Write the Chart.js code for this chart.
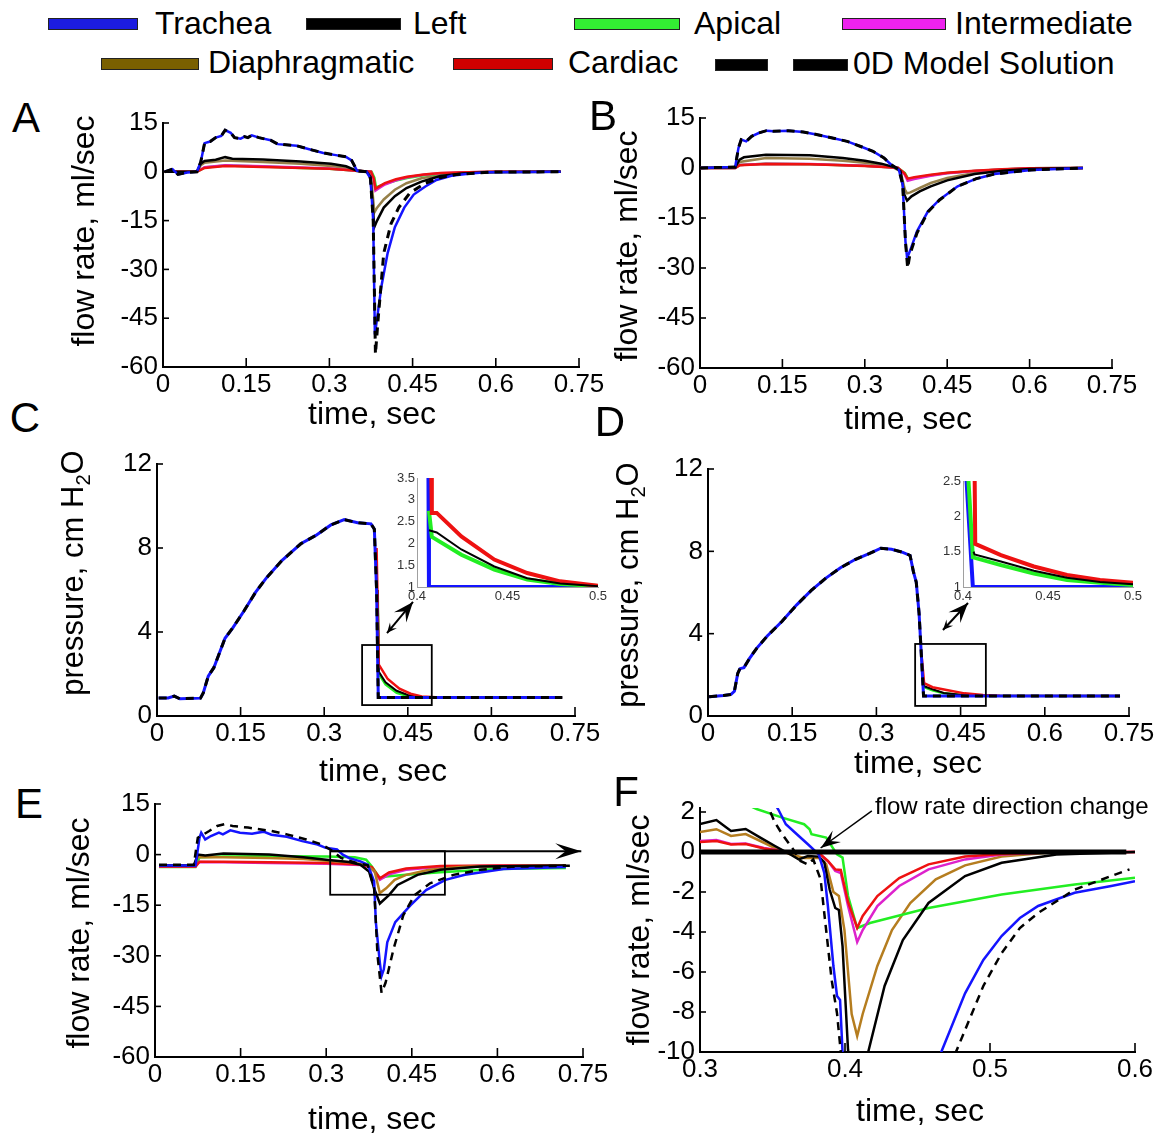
<!DOCTYPE html>
<html>
<head>
<meta charset="utf-8">
<script src="https://cdn.jsdelivr.net/npm/chart.js@4.4.0/dist/chart.umd.min.js"></script>
<style>
  body { margin: 0; background: #fff; }
  #fig { position: relative; width: 1166px; height: 1136px; overflow: hidden; font-family: 'Liberation Sans', Arial, sans-serif; color: #000; }
  canvas { position: absolute; }
  .lg { position: absolute; height: 12px; border: 1px solid #222; box-sizing: border-box; }
  .lt { position: absolute; font-size: 32px; line-height: 1; transform: translateY(-50%); white-space: nowrap; }
  .pl { position: absolute; font-size: 42px; line-height: 1; transform: translate(-50%, -50%); }
  .yt { position: absolute; line-height: 1; white-space: nowrap; transform: translate(-50%, -50%) rotate(-90deg); }
  .xt { position: absolute; line-height: 1; white-space: nowrap; transform: translate(-50%, -50%); }
  sub { font-size: 0.65em; vertical-align: -0.35em; }
</style>
</head>
<body>
<div id="fig">
  <!-- legend -->
  <div class="lg" style="left:48px;top:18px;width:90px;background:#1c1ce0"></div>
  <div class="lt" style="left:155px;top:23px">Trachea</div>
  <div class="lg" style="left:306px;top:18px;width:95px;background:#000"></div>
  <div class="lt" style="left:413px;top:23px">Left</div>
  <div class="lg" style="left:574px;top:18px;width:106px;background:#33ee33"></div>
  <div class="lt" style="left:694px;top:23px">Apical</div>
  <div class="lg" style="left:842px;top:18px;width:104px;background:#ee22ee"></div>
  <div class="lt" style="left:955px;top:23px">Intermediate</div>
  <div class="lg" style="left:101px;top:58px;width:98px;background:#7a6000"></div>
  <div class="lt" style="left:208px;top:62px">Diaphragmatic</div>
  <div class="lg" style="left:453px;top:58px;width:100px;background:#d00000"></div>
  <div class="lt" style="left:568px;top:62px">Cardiac</div>
  <div class="lg" style="left:715px;top:59px;width:53px;background:#000"></div>
  <div class="lg" style="left:793px;top:59px;width:55px;background:#000"></div>
  <div class="lt" style="left:853px;top:63px">0D Model Solution</div>

  <canvas id="chartA"></canvas>
  <canvas id="chartB"></canvas>
  <canvas id="chartC"></canvas>
  <canvas id="chartD"></canvas>
  <canvas id="chartE"></canvas>
  <canvas id="chartF"></canvas>
  <canvas id="insetC"></canvas>
  <canvas id="insetD"></canvas>

  <div class="pl" style="left:26px;top:118px">A</div>
  <div class="pl" style="left:603px;top:116px">B</div>
  <div class="pl" style="left:25px;top:418px">C</div>
  <div class="pl" style="left:610px;top:422px">D</div>
  <div class="pl" style="left:29px;top:804px">E</div>
  <div class="pl" style="left:626px;top:792px">F</div>

  <div class="yt" style="left:83px;top:231px;font-size:32px">flow rate, ml/sec</div>
  <div class="xt" style="left:372px;top:413px;font-size:32px">time, sec</div>
  <div class="yt" style="left:626px;top:246px;font-size:32px">flow rate, ml/sec</div>
  <div class="xt" style="left:908px;top:418px;font-size:32px">time, sec</div>
  <div class="yt" style="left:75px;top:573px;font-size:31px">pressure, cm H<sub>2</sub>O</div>
  <div class="xt" style="left:383px;top:770px;font-size:32px">time, sec</div>
  <div class="yt" style="left:630px;top:585px;font-size:31px">pressure, cm H<sub>2</sub>O</div>
  <div class="xt" style="left:918px;top:762px;font-size:32px">time, sec</div>
  <div class="yt" style="left:78px;top:933px;font-size:32px">flow rate, ml/sec</div>
  <div class="xt" style="left:372px;top:1118px;font-size:32px">time, sec</div>
  <div class="yt" style="left:638px;top:930px;font-size:32px">flow rate, ml/sec</div>
  <div class="xt" style="left:920px;top:1110px;font-size:32px">time, sec</div>
  <div class="lt" style="left:875px;top:806px;font-size:24px">flow rate direction change</div>
</div>

<script>
// ---- panel A: flow rates, [time s, ml/sec]
var aTrachea = [[0.003,0],[0.017,0.8],[0.027,-0.8],[0.044,-0.2],[0.061,0],[0.068,3],[0.075,8.8],[0.085,9.3],[0.095,10.5],[0.105,11],[0.112,12.8],[0.122,12],[0.129,10.5],[0.14,10.2],[0.147,10.8],[0.153,10.5],[0.16,11.2],[0.173,10.5],[0.194,9.7],[0.207,8.5],[0.241,8],[0.262,7],[0.289,5.8],[0.309,5.2],[0.33,4.6],[0.34,3.5],[0.35,0.3],[0.367,0],[0.374,-2],[0.379,-15],[0.382,-50],[0.386,-45],[0.394,-35],[0.405,-25],[0.418,-17],[0.435,-11],[0.452,-7],[0.473,-4.5],[0.493,-2.5],[0.52,-1.2],[0.554,-0.5],[0.588,-0.1],[0.717,0]];
var aModelTail = [[0.383,-56],[0.388,-45],[0.398,-25],[0.411,-16],[0.425,-11],[0.445,-6.5],[0.473,-3.5],[0.5,-1.8],[0.53,-0.8],[0.588,-0.1],[0.717,0]];
var aLeft = [[0.003,0],[0.061,0],[0.068,2.5],[0.075,3.3],[0.095,3.7],[0.112,4.5],[0.125,4],[0.18,3.8],[0.248,3.2],[0.303,2.5],[0.33,1.7],[0.35,0.3],[0.367,0],[0.374,-1.5],[0.381,-17],[0.386,-15],[0.398,-11],[0.418,-7.5],[0.439,-5],[0.466,-3],[0.5,-1.3],[0.54,-0.5],[0.588,-0.1],[0.717,0]];
var aDiaph = [[0.003,0],[0.061,0],[0.068,2],[0.075,2.8],[0.112,3.5],[0.18,3.0],[0.248,2.5],[0.303,1.8],[0.33,1.2],[0.35,0.2],[0.367,0],[0.375,-1],[0.381,-12.5],[0.386,-11],[0.398,-8.5],[0.418,-5.5],[0.439,-3.5],[0.466,-2],[0.5,-1],[0.55,-0.3],[0.6,0],[0.717,0]];
var aCardiac = [[0.003,0],[0.061,0],[0.075,1.2],[0.112,1.8],[0.18,1.5],[0.25,1.2],[0.3,0.9],[0.35,0.3],[0.375,0],[0.38,-2],[0.383,-5.2],[0.39,-4.5],[0.4,-3.5],[0.42,-2.3],[0.44,-1.5],[0.47,-0.8],[0.5,-0.4],[0.55,-0.1],[0.6,0],[0.717,0]];
var aInter = [[0.003,0],[0.061,0],[0.075,1.4],[0.112,2],[0.18,1.7],[0.25,1.3],[0.3,1],[0.35,0.3],[0.375,0],[0.38,-2.5],[0.383,-5.8],[0.39,-5],[0.4,-3.9],[0.42,-2.6],[0.44,-1.7],[0.47,-0.9],[0.5,-0.45],[0.55,-0.1],[0.6,0],[0.717,0]];
var aApical = [[0.003,0],[0.061,0],[0.075,1.3],[0.112,1.9],[0.18,1.6],[0.25,1.2],[0.3,0.9],[0.35,0.3],[0.376,0],[0.381,-1.8],[0.384,-4.8],[0.39,-4.4],[0.4,-3.7],[0.42,-2.7],[0.44,-1.9],[0.47,-1.1],[0.5,-0.6],[0.55,-0.2],[0.6,0],[0.717,0]];

// ---- panel B
var bTrachea = [[0,0],[0.064,0.3],[0.07,6],[0.075,8.5],[0.084,8],[0.094,9.5],[0.107,10.5],[0.121,11.2],[0.134,11],[0.161,11.2],[0.188,10.8],[0.214,10],[0.241,9],[0.268,8],[0.295,6.3],[0.315,5],[0.335,3],[0.348,1],[0.362,-0.5],[0.369,-5],[0.374,-22],[0.377,-27],[0.382,-25],[0.395,-19],[0.415,-13],[0.436,-9.5],[0.469,-5.5],[0.503,-3.2],[0.536,-1.8],[0.603,-0.6],[0.697,0]];
var bModelTail = [[0.378,-30],[0.382,-26],[0.395,-19.5],[0.415,-13.2],[0.436,-9.6],[0.469,-5.5],[0.503,-3.2],[0.536,-1.8],[0.603,-0.6],[0.697,0]];
var bLeft = [[0,0],[0.064,0.2],[0.072,2.5],[0.08,3.2],[0.12,4],[0.2,3.8],[0.26,3],[0.3,2.2],[0.33,1.3],[0.355,0.2],[0.365,-1],[0.372,-8],[0.377,-9.8],[0.385,-8.5],[0.4,-7],[0.42,-5.5],[0.45,-3.7],[0.5,-1.8],[0.55,-0.8],[0.6,-0.3],[0.697,0]];
var bDiaph = [[0,0],[0.064,0.1],[0.072,1.8],[0.12,3],[0.2,2.8],[0.26,2.2],[0.3,1.6],[0.35,0.3],[0.365,-1],[0.373,-6.5],[0.377,-7.6],[0.383,-7.3],[0.4,-6],[0.42,-4.5],[0.45,-3],[0.5,-1.5],[0.55,-0.7],[0.6,-0.2],[0.697,0]];
var bCardiac = [[0,0],[0.064,0],[0.072,0.8],[0.12,1.2],[0.2,1.1],[0.3,0.6],[0.36,0.1],[0.372,-1.5],[0.378,-3.2],[0.39,-2.8],[0.42,-2],[0.45,-1.4],[0.5,-0.8],[0.55,-0.4],[0.6,-0.1],[0.697,0]];
var bInter = [[0,0],[0.064,0],[0.072,0.9],[0.12,1.3],[0.2,1.2],[0.3,0.7],[0.36,0.1],[0.372,-1.8],[0.378,-3.8],[0.39,-3.3],[0.42,-2.3],[0.45,-1.6],[0.5,-0.9],[0.55,-0.45],[0.6,-0.1],[0.697,0]];
var bApical = [[0,0],[0.064,0],[0.072,0.9],[0.12,1.3],[0.2,1.15],[0.3,0.65],[0.36,0.1],[0.373,-1.5],[0.379,-3.3],[0.39,-3.0],[0.42,-2.2],[0.45,-1.5],[0.5,-0.9],[0.55,-0.45],[0.6,-0.1],[0.697,0]];

// ---- panel C: pressure, cm H2O
var cTrachea = [[0.003,0.86],[0.02,0.86],[0.031,0.95],[0.041,0.82],[0.078,0.85],[0.083,1.1],[0.092,1.9],[0.102,2.3],[0.112,3.0],[0.122,3.7],[0.136,4.2],[0.156,5.0],[0.177,5.9],[0.197,6.6],[0.224,7.4],[0.258,8.2],[0.285,8.6],[0.312,9.1],[0.336,9.35],[0.36,9.2],[0.384,9.15],[0.39,8.9],[0.394,6],[0.397,0.88],[0.727,0.88]];
var cCardiac = [[0.394,8],[0.398,2.45],[0.414,1.76],[0.435,1.3],[0.455,1.06],[0.475,0.93],[0.5,0.89],[0.727,0.88]];
var cApical = [[0.396,6],[0.398,2.0],[0.41,1.5],[0.43,1.1],[0.45,0.95],[0.47,0.9],[0.727,0.88]];
var cLeft = [[0.396,6],[0.398,2.1],[0.41,1.6],[0.43,1.2],[0.45,1.0],[0.47,0.92],[0.727,0.88]];
var ciTrachea = [[0.4063,3.8],[0.4066,1.0],[0.5,1.0]];
var ciCardiac = [[0.4078,3.8],[0.4082,2.7],[0.4109,2.7],[0.4245,2.16],[0.4427,1.63],[0.4609,1.32],[0.4791,1.13],[0.5,1.03]];
var ciApical = [[0.4066,2.75],[0.4082,2.15],[0.4245,1.74],[0.4427,1.4],[0.4609,1.17],[0.4791,1.07],[0.5,1.02]];
var ciLeft = [[0.4066,2.3],[0.4109,2.25],[0.4245,1.86],[0.4427,1.47],[0.4609,1.2],[0.4791,1.08],[0.5,1.02]];

// ---- panel D
var dTrachea = [[0.002,0.94],[0.028,1.0],[0.041,1.05],[0.047,1.2],[0.053,2.07],[0.057,2.3],[0.064,2.35],[0.074,2.8],[0.087,3.3],[0.106,3.9],[0.132,4.6],[0.158,5.4],[0.184,6.1],[0.21,6.7],[0.236,7.2],[0.262,7.6],[0.288,7.9],[0.308,8.15],[0.327,8.1],[0.347,7.95],[0.36,7.8],[0.366,7.0],[0.371,6.5],[0.376,5.0],[0.381,2.5],[0.384,0.97],[0.734,0.97]];
var dCardiac = [[0.381,2.8],[0.385,1.6],[0.40,1.4],[0.425,1.26],[0.457,1.1],[0.49,1.02],[0.52,0.98],[0.734,0.97]];
var dApical = [[0.383,1.8],[0.385,1.4],[0.40,1.25],[0.42,1.1],[0.45,1.02],[0.48,0.98],[0.734,0.97]];
var dLeft = [[0.383,1.8],[0.385,1.45],[0.40,1.3],[0.42,1.12],[0.45,1.03],[0.48,0.98],[0.734,0.97]];
var diTrachea = [[0.4016,2.7],[0.4058,1.0],[0.5,1.0]];
var diCardiac = [[0.4068,2.7],[0.4072,1.61],[0.4223,1.45],[0.4417,1.29],[0.4612,1.17],[0.4806,1.1],[0.5,1.06]];
var diApical = [[0.4030,2.6],[0.4058,1.42],[0.4223,1.31],[0.4417,1.19],[0.4612,1.10],[0.4806,1.06],[0.5,1.03]];
var diLeft = [[0.4062,1.5],[0.4068,1.46],[0.4223,1.36],[0.4417,1.23],[0.4612,1.13],[0.4806,1.07],[0.5,1.04]];

// ---- panel E
var eTrachea = [[0.007,-3.2],[0.071,-3.2],[0.078,5],[0.081,6.5],[0.088,4.5],[0.098,5.5],[0.112,6.5],[0.119,6],[0.132,7.2],[0.149,6.5],[0.17,6.2],[0.19,6.8],[0.204,5.9],[0.231,5.3],[0.258,4],[0.285,3],[0.299,2],[0.319,1.5],[0.329,0],[0.34,-1],[0.36,-2],[0.373,-3],[0.384,-8],[0.387,-20],[0.394,-32],[0.397,-36],[0.401,-34],[0.407,-26],[0.421,-20],[0.448,-15],[0.475,-10.5],[0.509,-7.5],[0.543,-6],[0.611,-4.3],[0.72,-3.7]];
var eModel = [[0.007,-3.0],[0.068,-3.0],[0.075,5],[0.095,7],[0.109,8.5],[0.122,9],[0.136,8.5],[0.163,8],[0.204,7],[0.231,6],[0.265,4.5],[0.292,3],[0.312,1],[0.326,-1],[0.353,-2.5],[0.373,-3.2],[0.384,-10],[0.39,-30],[0.397,-41],[0.404,-38],[0.418,-28],[0.435,-18],[0.455,-12],[0.482,-8.5],[0.523,-6],[0.57,-4.5],[0.625,-3.6],[0.727,-3.3]];
var eLeft = [[0.007,-3.2],[0.068,-3.2],[0.075,0],[0.088,-0.3],[0.12,0.3],[0.2,0],[0.26,-0.8],[0.3,-1.5],[0.34,-2.2],[0.36,-3],[0.375,-5],[0.384,-10],[0.394,-14.5],[0.41,-12],[0.425,-9],[0.46,-6],[0.5,-4.5],[0.57,-3.5],[0.72,-3.2]];
var eDiaph = [[0.007,-3.2],[0.068,-3.2],[0.075,-0.8],[0.12,-0.8],[0.2,-1],[0.26,-1.3],[0.3,-1.8],[0.34,-2.3],[0.37,-3],[0.385,-5],[0.394,-11.4],[0.405,-10],[0.42,-7.5],[0.44,-6],[0.48,-4.5],[0.54,-3.6],[0.72,-3.2]];
var eApical = [[0.007,-3.7],[0.071,-3.7],[0.078,-0.8],[0.12,-0.6],[0.2,-0.5],[0.3,-0.6],[0.35,-0.8],[0.37,-1.5],[0.38,-3.5],[0.394,-7],[0.405,-6.5],[0.44,-6],[0.5,-5.2],[0.6,-4.3],[0.72,-4]];
var eInter = [[0.007,-3.5],[0.071,-3.5],[0.078,-2.2],[0.12,-2.3],[0.2,-2.5],[0.3,-2.7],[0.36,-3.1],[0.38,-4],[0.394,-7.5],[0.41,-5.8],[0.44,-4.5],[0.5,-3.6],[0.6,-3.3],[0.72,-3.2]];
var eCardiac = [[0.007,-3.5],[0.071,-3.5],[0.078,-2.1],[0.12,-2.1],[0.2,-2.3],[0.3,-2.5],[0.36,-2.9],[0.38,-3.7],[0.394,-7],[0.41,-5.3],[0.44,-4.1],[0.5,-3.4],[0.6,-3.2],[0.72,-3.2]];

// ---- panel F: close-up 0.3-0.6 s
var fZero = [[0.3,0],[0.594,0]];
var fLeft = [[0.3,1.4],[0.3113,1.6],[0.3214,1.05],[0.3315,1.15],[0.3416,0.72],[0.3517,0.3],[0.3618,-0.1],[0.3681,-0.37],[0.3744,-0.2],[0.3819,-0.23],[0.3857,-0.5],[0.3895,-1.9],[0.3933,-2.8],[0.3958,-2.9],[0.3983,-4.7],[0.4021,-9.9],[0.405,-11.5],[0.416,-10],[0.4273,-6.7],[0.4399,-4.4],[0.4576,-2.55],[0.4828,-1.2],[0.508,-0.54],[0.5458,-0.12],[0.6,0]];
var fDiaph = [[0.3,1.0],[0.3113,1.14],[0.3214,0.8],[0.3315,0.9],[0.3416,0.55],[0.3517,0.2],[0.3618,-0.1],[0.3718,-0.3],[0.3819,-0.3],[0.387,-0.6],[0.392,-2.0],[0.3958,-2.2],[0.3996,-3.9],[0.4046,-8.1],[0.4084,-9.2],[0.4122,-8.1],[0.4223,-5.7],[0.4324,-3.9],[0.445,-2.55],[0.4626,-1.37],[0.4828,-0.67],[0.508,-0.23],[0.5458,0],[0.6,0]];
var fInter = [[0.3,0.55],[0.3113,0.6],[0.3214,0.4],[0.3315,0.42],[0.3441,0.2],[0.3567,0.05],[0.3718,0],[0.3819,-0.05],[0.3882,-0.45],[0.3933,-0.95],[0.3971,-1.05],[0.4021,-2.7],[0.4084,-4.5],[0.4122,-3.9],[0.4223,-2.7],[0.4374,-1.7],[0.4576,-0.87],[0.4828,-0.37],[0.508,-0.12],[0.5458,0],[0.6,0]];
var fCardiac = [[0.3,0.5],[0.3113,0.55],[0.3214,0.38],[0.3315,0.4],[0.3441,0.18],[0.3567,0.04],[0.3718,0],[0.3819,-0.05],[0.3882,-0.45],[0.3933,-0.87],[0.3971,-0.9],[0.4021,-2.5],[0.4084,-3.8],[0.4122,-3.2],[0.4223,-2.2],[0.4374,-1.3],[0.4576,-0.62],[0.4828,-0.23],[0.508,-0.1],[0.5458,0],[0.6,0]];
var fApical = [[0.33,2.45],[0.3391,2.15],[0.3567,1.72],[0.3718,1.39],[0.3756,1.14],[0.3769,0.89],[0.387,0.72],[0.3945,-0.12],[0.3983,-0.28],[0.4021,-2.2],[0.4084,-3.8],[0.4172,-3.55],[0.4576,-2.8],[0.508,-2.13],[0.5584,-1.62],[0.6,-1.29]];
var fTrachea = [[0.35,2.6],[0.3542,2.1],[0.3592,1.39],[0.3668,0.89],[0.3744,0.39],[0.3819,-0.12],[0.3857,-1.04],[0.3882,-2.7],[0.392,-5.7],[0.3945,-7.2],[0.3966,-7.4],[0.3983,-10],[0.402,-33],[0.42,-22],[0.44,-15],[0.4664,-10],[0.4828,-7.07],[0.4954,-5.4],[0.508,-4.2],[0.5206,-3.3],[0.5332,-2.7],[0.5584,-2.04],[0.5836,-1.7],[0.6,-1.46]];
var fModel = [[0.344,2.6],[0.3479,2.1],[0.3517,1.47],[0.3567,0.89],[0.3643,0.13],[0.3693,-0.45],[0.3744,-0.62],[0.3781,-0.37],[0.3832,-1.37],[0.3857,-3.05],[0.3908,-6.4],[0.3945,-8.07],[0.3971,-10],[0.401,-38],[0.42,-25],[0.45,-14],[0.4765,-10],[0.4954,-6.7],[0.508,-5.06],[0.5206,-3.8],[0.5332,-3.05],[0.5584,-1.88],[0.5836,-1.2],[0.5962,-0.87]];

var FONT = "'Liberation Sans', Arial, sans-serif";
Chart.defaults.font.family = FONT;
var BLUE = '#1414ff', GREEN = '#22ee22', MAG = '#dd22cc', RED = '#ee1111';
var DASH = [8, 6];

function fmt(v) { return String(+Number(v).toFixed(2)); }

function series(pts, color, width, dash) {
  return {
    data: pts.map(function (p) { return { x: p[0], y: p[1] }; }),
    borderColor: color, borderWidth: width, borderDash: dash || [],
    pointRadius: 0, fill: false, tension: 0
  };
}

function arrowHead(ctx, x1, y1, x2, y2, len, half) {
  var ang = Math.atan2(y2 - y1, x2 - x1);
  ctx.save();
  ctx.translate(x2, y2); ctx.rotate(ang);
  ctx.beginPath();
  ctx.moveTo(0, 0); ctx.lineTo(-len, -half); ctx.lineTo(-len * 0.6, 0); ctx.lineTo(-len, half);
  ctx.closePath(); ctx.fill();
  ctx.restore();
}

// inward ticks, zoom boxes and arrows, placed through the chart scales
var figMarks = {
  id: 'figMarks',
  afterDatasetsDraw: function (chart, args, opts) {
    var ctx = chart.ctx, xs = chart.scales.x, ys = chart.scales.y, a = chart.chartArea;
    ctx.save();
    ctx.strokeStyle = '#000'; ctx.fillStyle = '#000';
    if (opts.tickLen) {
      ctx.lineWidth = 1.6;
      xs.ticks.forEach(function (t) {
        var px = xs.getPixelForValue(t.value);
        ctx.beginPath(); ctx.moveTo(px, a.bottom); ctx.lineTo(px, a.bottom - opts.tickLen); ctx.stroke();
      });
      ys.ticks.forEach(function (t) {
        var py = ys.getPixelForValue(t.value);
        ctx.beginPath(); ctx.moveTo(a.left, py); ctx.lineTo(a.left + 6, py); ctx.stroke();
      });
    }
    ctx.lineWidth = 1.8;
    (opts.boxes || []).forEach(function (b) {
      var x1 = xs.getPixelForValue(b[0]), y1 = ys.getPixelForValue(b[1]);
      var x2 = xs.getPixelForValue(b[2]), y2 = ys.getPixelForValue(b[3]);
      ctx.strokeRect(x1, y1, x2 - x1, y2 - y1);
    });
    (opts.arrows || []).forEach(function (ar) {
      var x1 = xs.getPixelForValue(ar.from[0]), y1 = ys.getPixelForValue(ar.from[1]);
      var x2 = xs.getPixelForValue(ar.to[0]), y2 = ys.getPixelForValue(ar.to[1]);
      ctx.lineWidth = ar.width || 1.5;
      ctx.beginPath(); ctx.moveTo(x1, y1); ctx.lineTo(x2, y2); ctx.stroke();
      arrowHead(ctx, x1, y1, x2, y2, ar.len, ar.half);
      if (ar.back) arrowHead(ctx, x2, y2, x1, y1, ar.back, ar.back * 0.45);
    });
    ctx.restore();
  }
};

function panel(id, box, sets, sc, marks) {
  var pad = sc.inset ? { wy: 40, top: 12, right: 22, hx: 24 } : { wy: 95, top: 22, right: 45, hx: 44 };
  var c = document.getElementById(id);
  c.width = box.R - box.L + pad.wy + pad.right;
  c.height = box.B - box.T + pad.top + pad.hx;
  c.style.left = (box.L - pad.wy) + 'px';
  c.style.top = (box.T - pad.top) + 'px';
  function axis(r, horiz) {
    return {
      type: 'linear', min: r[0], max: r[1],
      border: { display: true, color: sc.inset ? '#a0a0a0' : '#000', width: sc.inset ? 1 : 2 },
      grid: { display: false, drawTicks: false },
      ticks: {
        stepSize: r[2], includeBounds: false, autoSkip: false, maxRotation: 0,
        color: sc.inset ? '#333' : '#000', font: { family: FONT, size: sc.font },
        padding: sc.inset ? 2 : (horiz ? 2 : 5), callback: fmt
      },
      afterFit: function (s) { if (horiz) s.height = pad.hx; else s.width = pad.wy; }
    };
  }
  return new Chart(c, {
    type: 'line',
    data: { datasets: sets },
    options: {
      responsive: false, animation: false, devicePixelRatio: 1, events: [],
      layout: { padding: { left: 0, right: pad.right, top: pad.top, bottom: 0 } },
      scales: { x: axis(sc.x, true), y: axis(sc.y, false) },
      plugins: { legend: { display: false }, tooltip: { enabled: false }, figMarks: marks || {} }
    },
    plugins: [figMarks]
  });
}

var flowX = [0, 0.75, 0.15], flowY = [-60, 15, 15], presY = [0, 12, 4];

// first dataset is drawn on top
panel('chartA', { L: 163, R: 579, T: 123, B: 367 }, [
  series(aTrachea.filter(function (p) { return p[0] <= 0.379; }).concat(aModelTail), '#000', 3, DASH),
  series(aTrachea, BLUE, 2.5),
  series(aLeft, '#000', 2.5),
  series(aCardiac, RED, 2.5),
  series(aInter, MAG, 2.5),
  series(aApical, GREEN, 2.5),
  series(aDiaph, '#96804a', 2.5)
], { x: flowX, y: flowY, font: 26 }, { tickLen: 9 });

panel('chartB', { L: 700, R: 1112, T: 118, B: 368 }, [
  series(bTrachea.filter(function (p) { return p[0] <= 0.374; }).concat(bModelTail), '#000', 3, DASH),
  series(bTrachea, BLUE, 2.5),
  series(bLeft, '#000', 2.5),
  series(bCardiac, RED, 2.5),
  series(bInter, MAG, 2.5),
  series(bApical, GREEN, 2.5),
  series(bDiaph, '#96804a', 2.5)
], { x: flowX, y: flowY, font: 26 }, { tickLen: 9 });

// the 0D pressure overlays the trachea trace
panel('chartC', { L: 157, R: 575, T: 464, B: 716 }, [
  series(cTrachea, '#000', 3, DASH),
  series(cTrachea, BLUE, 3),
  series(cCardiac, RED, 2.5),
  series(cLeft, '#000', 2),
  series(cApical, GREEN, 2.5)
], { x: flowX, y: presY, font: 26 }, {
  tickLen: 9,
  boxes: [[0.368, 3.38, 0.493, 0.52]],
  arrows: [{ from: [0.4127, 3.95], to: [0.4593, 5.43], len: 20, half: 8, back: 10, width: 2 }]
});

panel('insetC', { L: 417, R: 598, T: 478, B: 587 }, [
  series(ciLeft, '#000', 2),
  series(ciCardiac, RED, 4),
  series(ciApical, GREEN, 4),
  series(ciTrachea, BLUE, 4)
], { x: [0.4, 0.5, 0.05], y: [1, 3.5, 0.5], font: 13, inset: true });

panel('chartD', { L: 708, R: 1129, T: 469, B: 716 }, [
  series(dTrachea, '#000', 3, DASH),
  series(dTrachea, BLUE, 3),
  series(dCardiac, RED, 2.5),
  series(dLeft, '#000', 2),
  series(dApical, GREEN, 2.5)
], { x: flowX, y: presY, font: 26 }, {
  tickLen: 9,
  boxes: [[0.369, 3.5, 0.495, 0.49]],
  arrows: [{ from: [0.4186, 4.18], to: [0.4632, 5.49], len: 20, half: 8, back: 10, width: 2 }]
});

panel('insetD', { L: 963, R: 1133, T: 481, B: 587 }, [
  series(diLeft, '#000', 2),
  series(diCardiac, RED, 4),
  series(diApical, GREEN, 4),
  series(diTrachea, BLUE, 4)
], { x: [0.4, 0.5, 0.05], y: [1, 2.5, 0.5], font: 13, inset: true });

panel('chartE', { L: 155, R: 583, T: 804, B: 1057 }, [
  series(eModel, '#000', 2.5, DASH),
  series(eTrachea, BLUE, 2.5),
  series(eLeft, '#000', 2.5),
  series(eDiaph, '#b57d1f', 2.5),
  series(eCardiac, RED, 2.5),
  series(eInter, MAG, 2.5),
  series(eApical, GREEN, 2.5)
], { x: flowX, y: flowY, font: 26 }, {
  tickLen: 9,
  boxes: [[0.307, 1.0, 0.508, -11.9]],
  arrows: [{ from: [0.307, 1.0], to: [0.747, 1.0], len: 26, half: 8, width: 2 }]
});

panel('chartF', { L: 700, R: 1135, T: 808, B: 1052 }, [
  series(fZero, '#000', 5),
  series(fModel, '#000', 2.5, DASH),
  series(fTrachea, BLUE, 2.5),
  series(fLeft, '#000', 2.5),
  series(fCardiac, RED, 2.5),
  series(fInter, MAG, 2.5),
  series(fApical, GREEN, 2.5),
  series(fDiaph, '#b57d1f', 2.5)
], { x: [0.3, 0.6, 0.1], y: [-10, 2.2, 2], font: 26 }, {
  tickLen: 9,
  arrows: [{ from: [0.4185, 2.06], to: [0.3832, 0.2], len: 20, half: 7, width: 1.5 }]
});
</script>
</body>
</html>
